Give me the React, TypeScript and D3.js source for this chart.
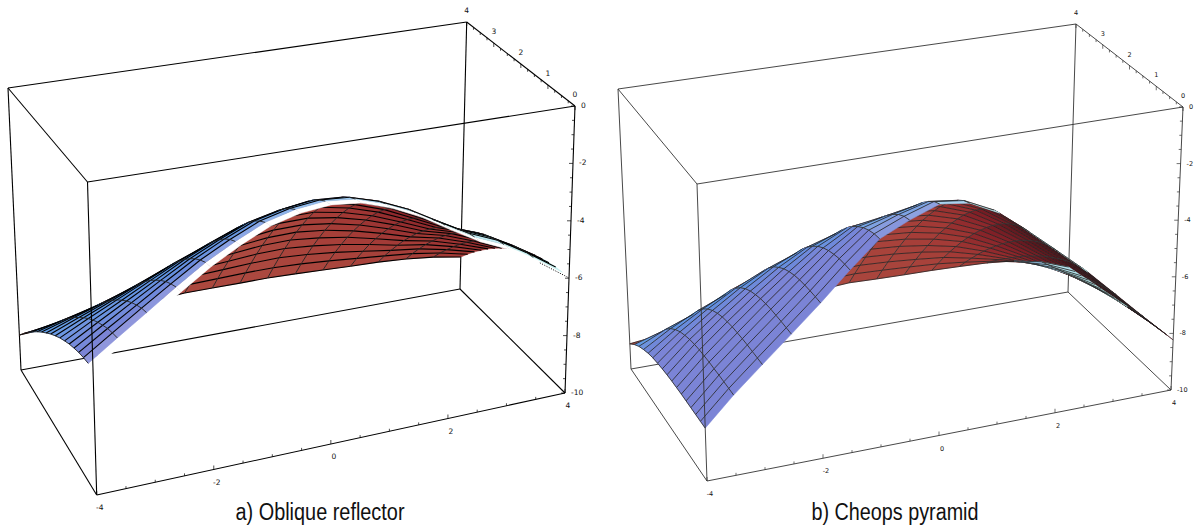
import React from "react";
import * as d3 from "d3";

const xGrid = [-4, -3.5, -3, -2.5, -2, -1.5, -1, -0.5, 0, 0.5, 1, 1.5, 2, 2.5, 3, 3.5, 4];
const yGrid = [0, 0.25, 0.5, 0.75, 1, 1.25, 1.5, 1.75, 2, 2.25, 2.5, 2.75, 3, 3.25, 3.5, 3.75, 4];

// Surface heights, one row per xGrid value, one column per yGrid value.
// Edges and ridge line, cells in between smoothed by fit.
const heightsA = [
  [-6.01,-6.02,-6.06,-6.12,-6.21,-6.31,-6.44,-6.58,-6.75,-6.93,-7.14,-7.36,-7.60,-7.86,-8.14,-8.44,-8.76],
  [-5.36,-5.38,-5.44,-5.52,-5.64,-5.77,-5.93,-6.11,-6.32,-6.55,-6.79,-7.06,-7.35,-7.66,-7.99,-8.33,-8.70],
  [-4.70,-4.74,-4.81,-4.93,-5.07,-5.24,-5.44,-5.66,-5.91,-6.18,-6.47,-6.78,-7.11,-7.46,-7.83,-8.22,-8.63],
  [-4.03,-4.08,-4.19,-4.33,-4.51,-4.72,-4.95,-5.21,-5.50,-5.81,-6.14,-6.49,-6.87,-7.26,-7.67,-8.10,-8.55],
  [-3.39,-3.45,-3.58,-3.75,-3.96,-4.20,-4.47,-4.76,-5.09,-5.43,-5.80,-6.19,-6.61,-7.04,-7.50,-7.97,-8.46],
  [-2.85,-2.93,-3.07,-3.26,-3.50,-3.76,-4.06,-4.39,-4.74,-5.12,-5.52,-5.95,-6.40,-6.87,-7.35,-7.86,-8.39],
  [-2.39,-2.47,-2.63,-2.83,-3.08,-3.37,-3.68,-4.03,-4.41,-4.82,-5.25,-5.70,-6.18,-6.68,-7.20,-7.75,-8.31],
  [-2.13,-2.21,-2.38,-2.59,-2.85,-3.15,-3.48,-3.85,-4.24,-4.66,-5.11,-5.59,-6.09,-6.61,-7.15,-7.72,-8.31],
  [-2.03,-2.10,-2.26,-2.46,-2.71,-3.01,-3.34,-3.70,-4.10,-4.53,-4.99,-5.48,-5.99,-6.53,-7.10,-7.69,-8.31],
  [-2.14,-2.20,-2.34,-2.53,-2.77,-3.04,-3.36,-3.71,-4.10,-4.52,-4.98,-5.46,-5.97,-6.51,-7.08,-7.68,-8.30],
  [-2.48,-2.53,-2.65,-2.82,-3.03,-3.29,-3.58,-3.91,-4.28,-4.68,-5.11,-5.57,-6.07,-6.59,-7.14,-7.72,-8.33],
  [-2.96,-3.00,-3.10,-3.25,-3.44,-3.67,-3.93,-4.23,-4.57,-4.94,-5.34,-5.77,-6.23,-6.72,-7.24,-7.79,-8.37],
  [-3.58,-3.61,-3.69,-3.82,-3.98,-4.18,-4.41,-4.67,-4.97,-5.29,-5.65,-6.04,-6.46,-6.90,-7.38,-7.88,-8.41],
  [-4.17,-4.20,-4.27,-4.38,-4.52,-4.70,-4.90,-5.13,-5.40,-5.69,-6.00,-6.35,-6.71,-7.11,-7.53,-7.97,-8.44],
  [-4.63,-4.65,-4.71,-4.81,-4.93,-5.08,-5.26,-5.47,-5.71,-5.97,-6.26,-6.57,-6.91,-7.27,-7.66,-8.07,-8.51],
  [-5.27,-5.29,-5.33,-5.41,-5.51,-5.64,-5.79,-5.97,-6.17,-6.39,-6.64,-6.91,-7.21,-7.53,-7.87,-8.23,-8.62],
  [-5.99,-6.00,-6.03,-6.09,-6.17,-6.26,-6.39,-6.53,-6.69,-6.88,-7.09,-7.32,-7.57,-7.85,-8.14,-8.46,-8.80],
];

const heightsB = [
  [-8.22,-8.22,-8.22,-8.22,-8.22,-8.22,-8.23,-8.24,-8.26,-8.29,-8.33,-8.38,-8.46,-8.57,-8.70,-8.88,-9.10],
  [-7.29,-7.29,-7.29,-7.29,-7.30,-7.30,-7.32,-7.34,-7.38,-7.44,-7.53,-7.64,-7.80,-8.00,-8.26,-8.59,-8.99],
  [-6.44,-6.44,-6.44,-6.44,-6.45,-6.47,-6.49,-6.54,-6.60,-6.70,-6.83,-7.01,-7.24,-7.53,-7.90,-8.34,-8.89],
  [-5.59,-5.59,-5.59,-5.60,-5.61,-5.64,-5.69,-5.77,-5.87,-6.01,-6.20,-6.45,-6.75,-7.13,-7.58,-8.13,-8.77],
  [-4.71,-4.71,-4.72,-4.74,-4.77,-4.83,-4.92,-5.04,-5.21,-5.41,-5.68,-6.00,-6.38,-6.83,-7.36,-7.97,-8.67],
  [-3.76,-3.77,-3.79,-3.85,-3.93,-4.05,-4.21,-4.42,-4.67,-4.96,-5.31,-5.71,-6.16,-6.67,-7.24,-7.86,-8.55],
  [-2.87,-2.90,-2.98,-3.10,-3.27,-3.48,-3.73,-4.03,-4.36,-4.73,-5.15,-5.60,-6.09,-6.62,-7.18,-7.79,-8.43],
  [-2.40,-2.47,-2.61,-2.81,-3.05,-3.32,-3.63,-3.98,-4.36,-4.76,-5.20,-5.66,-6.14,-6.65,-7.19,-7.75,-8.33],
  [-2.02,-2.13,-2.33,-2.57,-2.86,-3.18,-3.52,-3.90,-4.30,-4.73,-5.18,-5.64,-6.13,-6.64,-7.16,-7.70,-8.26],
  [-2.16,-2.27,-2.46,-2.70,-2.98,-3.29,-3.64,-4.01,-4.40,-4.82,-5.26,-5.72,-6.20,-6.70,-7.21,-7.74,-8.29],
  [-2.68,-2.77,-2.93,-3.14,-3.38,-3.66,-3.97,-4.31,-4.67,-5.06,-5.46,-5.89,-6.34,-6.80,-7.29,-7.79,-8.31],
  [-3.51,-3.57,-3.68,-3.84,-4.03,-4.26,-4.51,-4.79,-5.10,-5.43,-5.78,-6.15,-6.55,-6.96,-7.39,-7.85,-8.32],
  [-4.39,-4.44,-4.53,-4.66,-4.82,-5.01,-5.21,-5.45,-5.70,-5.97,-6.26,-6.56,-6.89,-7.23,-7.59,-7.96,-8.35],
  [-5.27,-5.32,-5.41,-5.52,-5.66,-5.82,-5.99,-6.17,-6.37,-6.59,-6.81,-7.05,-7.30,-7.56,-7.82,-8.10,-8.39],
  [-6.26,-6.31,-6.38,-6.47,-6.58,-6.70,-6.82,-6.96,-7.11,-7.26,-7.41,-7.58,-7.75,-7.93,-8.11,-8.30,-8.49],
  [-7.26,-7.30,-7.36,-7.42,-7.50,-7.58,-7.66,-7.75,-7.84,-7.94,-8.04,-8.14,-8.25,-8.36,-8.47,-8.58,-8.70],
  [-8.23,-8.26,-8.30,-8.34,-8.39,-8.44,-8.49,-8.54,-8.60,-8.65,-8.71,-8.77,-8.82,-8.88,-8.95,-9.01,-9.07],
];

const xTicks = [-4, -3.5, -3, -2.5, -2, -1.5, -1, -0.5, 0, 0.5, 1, 1.5, 2, 2.5, 3, 3.5, 4];
const yTicks = [0, 0.25, 0.5, 0.75, 1, 1.25, 1.5, 1.75, 2, 2.25, 2.5, 2.75, 3, 3.25, 3.5, 3.75, 4];
const zTicks = [0, -0.5, -1, -1.5, -2, -2.5, -3, -3.5, -4, -4.5, -5, -5.5, -6, -6.5, -7, -7.5, -8, -8.5, -9, -9.5, -10];
const xLabels = [-4, -2, 0, 2, 4];
const yLabels = [0, 1, 2, 3, 4];
const zLabels = [0, -2, -4, -6, -8, -10];

const sx = d3.scaleLinear().domain([-4, 4]).range([0, 1]);
const sy = d3.scaleLinear().domain([0, 4]).range([0, 1]);
const sz = d3.scaleLinear().domain([-10, 0]).range([0, 1]);
const unit = d3.scaleLinear().domain([0, 1]).range([0, 1]).clamp(true);

type Pt = [number, number];
type Box = { fbl: Pt; fbr: Pt; ftl: Pt; ftr: Pt; bbl: Pt; bbr: Pt; btl: Pt; btr: Pt };

const mix = (a: Pt, b: Pt, t: number): Pt => [a[0] + (b[0] - a[0]) * t, a[1] + (b[1] - a[1]) * t];
// the plot box is a wireframe, so x,y,z map through its eight corners
const projector = (c: Box) => (x: number, y: number, z: number): Pt => {
  const u = sx(x), v = sy(y), w = sz(z);
  const bottom = mix(mix(c.fbl, c.fbr, u), mix(c.bbl, c.bbr, u), v);
  const top = mix(mix(c.ftl, c.ftr, u), mix(c.btl, c.btr, u), v);
  return mix(bottom, top, w);
};

const boxA: Box = { fbl: [96.7, 495], fbr: [565, 393], ftl: [87.5, 182], ftr: [575, 106], bbl: [21, 370], bbr: [460, 289], btl: [8, 88], btr: [466.7, 22] };
const boxB: Box = { fbl: [707, 481], fbr: [1171, 390], ftl: [697, 184], ftr: [1183, 107], bbl: [631, 369], bbr: [1068, 292], btl: [618, 89], btr: [1076, 24] };

const blueBase = d3.scaleLinear<string>().domain([-1.2, 0, 1.2]).range(["#b8ecec", "#a9cdf0", "#7b84d6"]).clamp(true);
const redBase = d3.scaleLinear<string>().domain([-2, -1.2, -0.5, 0.2, 1.4]).range(["#2a0a10", "#7a1420", "#9c2e2e", "#a8403a", "#ad4a3e"]).clamp(true);

const cellPath = d3.line();

function Surface({ heights, box, oblique }: { heights: number[][]; box: Box; oblique: boolean }) {
  const project = projector(box);
  const cells: any[] = [];
  xGrid.slice(0, -1).forEach((x0, i) => {
    yGrid.slice(0, -1).forEach((y0, j) => {
      const x1 = xGrid[i + 1], y1 = yGrid[j + 1];
      const a = project(x0, y0, heights[i][j]);
      const b = project(x1, y0, heights[i + 1][j]);
      const c = project(x1, y1, heights[i + 1][j + 1]);
      const d = project(x0, y1, heights[i][j + 1]);
      const zx = (heights[i + 1][j] + heights[i + 1][j + 1] - heights[i][j] - heights[i][j + 1]) / 2 / (x1 - x0);
      const zy = (heights[i][j + 1] + heights[i + 1][j + 1] - heights[i][j] - heights[i + 1][j]) / 2 / (y1 - y0);
      const front = d3.polygonArea([a, b, c, d]) > 0;
      let fill: string;
      if (front) {
        fill = d3.interpolateRgb(blueBase(zx), "#4a98e8")(unit((Math.abs(zy) - (oblique ? 0.3 : 0.4)) / 1));
        if (oblique && j === 1) fill = d3.interpolateRgb(fill, "#ffffff")(0.15);
        if (oblique && j === 0) fill = "#ffffff";
      } else {
        fill = d3.interpolateRgb(redBase(zx), "#b45a4a")(0.5 * unit(Math.abs(zy) / 3));
      }
      cells.push({ i, j, a, b, c, d, fill, front });
    });
  });
  const layer = (list: any[]) => {
    const ruled = list.filter((e) => !(oblique && e.front && e.j === 0));
    return (
      <g>
        {list.map((e) => (
          <path key={`f${e.i}-${e.j}`} d={cellPath([e.a, e.b, e.c, e.d])! + "Z"} fill={e.fill} stroke={e.fill} strokeWidth={0.5} />
        ))}
        {ruled.map((e) => (
          <path key={`h${e.i}-${e.j}`} d={cellPath([e.d, e.c])!} stroke={oblique ? "#000" : "#222"} strokeWidth={oblique ? 1.1 : 0.8} fill="none" />
        ))}
        {ruled.map((e) => (
          <path key={`v${e.i}-${e.j}`} d={cellPath([e.a, e.d])!} stroke={oblique ? "#222" : "#333"} strokeWidth={0.9} fill="none" />
        ))}
      </g>
    );
  };
  const tail: Pt[] = [project(3.5, 0, heights[15][0]), project(4, 0, heights[16][0])];
  return (
    <g>
      {layer(cells.filter((e) => !e.front))}
      {layer(cells.filter((e) => e.front))}
      {oblique && <path d={cellPath(tail)!} fill="none" stroke="#000" strokeWidth={1} strokeDasharray="1 1.5" />}
    </g>
  );
}

function Chart({ heights, box, oblique, title, titleX, titleLen }: { heights: number[][]; box: Box; oblique: boolean; title: string; titleX: number; titleLen: number }) {
  const project = projector(box);
  const edge = oblique ? "#000" : "#333";
  const w = oblique ? 1.1 : 0.9;
  const seg = (a: Pt, b: Pt, k: string) => <line key={k} x1={a[0]} y1={a[1]} x2={b[0]} y2={b[1]} stroke={edge} strokeWidth={w} />;
  const labelFont = { fontFamily: "'DejaVu Sans', sans-serif", fontSize: oblique ? 7.5 : 6.5, fill: "#111" };
  return (
    <g>
      {seg(box.btl, box.btr, "1")}
      {seg(box.btl, box.bbl, "2")}
      {seg(box.btr, box.bbr, "3")}
      {seg(box.bbl, box.bbr, "4")}
      {seg(box.bbl, box.fbl, "5")}
      {seg(box.bbr, box.fbr, "6")}
      {seg(box.btl, box.ftl, "7")}
      {seg(box.btr, box.ftr, "8")}
      {seg(box.ftl, box.ftr, "9")}
      <Surface heights={heights} box={box} oblique={oblique} />
      {seg(box.ftl, box.fbl, "10")}
      {seg(box.ftr, box.fbr, "11")}
      {seg(box.fbl, box.fbr, "12")}
      {xTicks.map((x) => {
        const p = project(x, 0, -10);
        return <line key={x} x1={p[0]} y1={p[1]} x2={p[0]} y2={p[1] - (x % 2 === 0 ? 4 : 2.5)} stroke={edge} strokeWidth={0.7} />;
      })}
      {yTicks.map((y) => {
        const p = project(4, y, 0);
        return <line key={y} x1={p[0]} y1={p[1]} x2={p[0]} y2={p[1] + (y % 1 === 0 ? 4 : 2.5)} stroke={edge} strokeWidth={0.7} />;
      })}
      {zTicks.map((z) => {
        const p = project(4, 0, z);
        return <line key={z} x1={p[0]} y1={p[1]} x2={p[0] - (z % 2 === 0 ? 4 : 2.5)} y2={p[1]} stroke={edge} strokeWidth={0.7} />;
      })}
      {xLabels.map((x) => {
        const p = project(x, 0, -10);
        return <text key={x} x={p[0] + 3} y={p[1] + 15} textAnchor="middle" {...labelFont}>{x}</text>;
      })}
      {yLabels.map((y) => {
        const p = project(4, y, 0);
        return <text key={y} x={p[0]} y={p[1] - 9} textAnchor="middle" {...labelFont}>{y}</text>;
      })}
      {zLabels.map((z) => {
        const p = project(4, 0, z);
        return <text key={z} x={p[0] + 6} y={p[1] + 2} {...labelFont}>{z}</text>;
      })}
      <text x={titleX} y={520} textAnchor="middle" textLength={titleLen} lengthAdjust="spacingAndGlyphs" fontFamily="'Liberation Sans', sans-serif" fontSize={23} fill="#111">{title}</text>
    </g>
  );
}

export default function App() {
  return (
    <svg width={1196} height={527} style={{ position: "absolute", left: 0, top: 0, background: "#fff" }}>
      <Chart heights={heightsA} box={boxA} oblique title="a) Oblique reflector" titleX={320} titleLen={169} />
      <Chart heights={heightsB} box={boxB} oblique={false} title="b) Cheops pyramid" titleX={895} titleLen={167} />
    </svg>
  );
}
